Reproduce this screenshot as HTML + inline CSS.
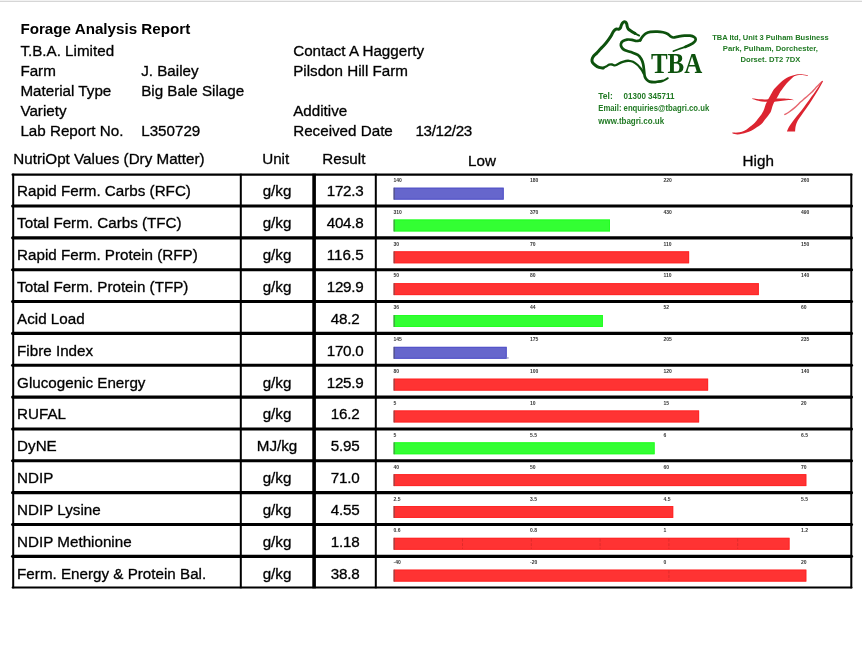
<!DOCTYPE html>
<html><head><meta charset="utf-8"><title>Forage Analysis Report</title>
<style>
html,body{margin:0;padding:0;background:#fff;}
body{width:862px;height:658px;overflow:hidden;}
svg{display:block;}

</style></head><body>
<svg width="862" height="658" viewBox="0 0 862 658">
<g font-family="Liberation Sans, Arial, Helvetica, sans-serif">
<rect x="0" y="0" width="862" height="1" fill="#f2f2f2"/>
<rect x="0" y="1" width="862" height="1" fill="#d6d6d6"/>
<text x="20.4" y="34.0" font-size="15.2" font-weight="bold" fill="#000">Forage Analysis Report</text>
<text x="20.4" y="55.6" font-size="15.2" fill="#000" stroke="#000" stroke-width="0.4" stroke-opacity="0.75">T.B.A. Limited</text>
<text x="20.4" y="76" font-size="15.2" fill="#000" stroke="#000" stroke-width="0.4" stroke-opacity="0.75">Farm</text>
<text x="141.2" y="76" font-size="15.2" fill="#000" stroke="#000" stroke-width="0.4" stroke-opacity="0.75">J. Bailey</text>
<text x="20.4" y="96" font-size="15.2" fill="#000" stroke="#000" stroke-width="0.4" stroke-opacity="0.75">Material Type</text>
<text x="141.2" y="96" font-size="15.2" fill="#000" stroke="#000" stroke-width="0.4" stroke-opacity="0.75">Big Bale Silage</text>
<text x="20.4" y="116" font-size="15.2" fill="#000" stroke="#000" stroke-width="0.4" stroke-opacity="0.75">Variety</text>
<text x="20.4" y="136" font-size="15.2" fill="#000" stroke="#000" stroke-width="0.4" stroke-opacity="0.75">Lab Report No.</text>
<text x="141.2" y="136" font-size="15.2" fill="#000" stroke="#000" stroke-width="0.4" stroke-opacity="0.75">L350729</text>
<text x="293.2" y="55.6" font-size="15.2" fill="#000" stroke="#000" stroke-width="0.4" stroke-opacity="0.75">Contact A Haggerty</text>
<text x="293.2" y="76" font-size="15.2" fill="#000" stroke="#000" stroke-width="0.4" stroke-opacity="0.75">Pilsdon Hill Farm</text>
<text x="293.2" y="116" font-size="15.2" fill="#000" stroke="#000" stroke-width="0.4" stroke-opacity="0.75">Additive</text>
<text x="293.2" y="136" font-size="15.2" fill="#000" stroke="#000" stroke-width="0.4" stroke-opacity="0.75">Received Date</text>
<text x="415.4" y="136" font-size="15.2" fill="#000" stroke="#000" stroke-width="0.4" stroke-opacity="0.75" textLength="56.9" lengthAdjust="spacing">13/12/23</text>
<text x="13.3" y="164.3" font-size="15.2" fill="#000" stroke="#000" stroke-width="0.4" stroke-opacity="0.75">NutriOpt Values (Dry Matter)</text>
<text x="275.7" y="164.1" font-size="15.2" text-anchor="middle" fill="#000" stroke="#000" stroke-width="0.4" stroke-opacity="0.75">Unit</text>
<text x="343.9" y="164.1" font-size="15.2" text-anchor="middle" fill="#000" stroke="#000" stroke-width="0.4" stroke-opacity="0.75">Result</text>
<text x="468.0" y="166.2" font-size="15.2" fill="#000" stroke="#000" stroke-width="0.4" stroke-opacity="0.75">Low</text>
<text x="742.6" y="166.2" font-size="15.2" fill="#000" stroke="#000" stroke-width="0.4" stroke-opacity="0.75">High</text>
<text x="17.1" y="196.4" font-size="15.2" fill="#000" stroke="#000" stroke-width="0.4" stroke-opacity="0.75">Rapid Ferm. Carbs (RFC)</text>
<text x="277.0" y="196.4" font-size="15.2" text-anchor="middle" fill="#000" stroke="#000" stroke-width="0.4" stroke-opacity="0.75">g/kg</text>
<text x="345.2" y="196.4" font-size="15.2" text-anchor="middle" fill="#000" stroke="#000" stroke-width="0.4" stroke-opacity="0.75" textLength="36.9" lengthAdjust="spacing">172.3</text>
<text x="393.5" y="181.8" font-size="5.0" font-weight="bold" fill="#333">140</text>
<text x="530.0" y="181.8" font-size="5.0" font-weight="bold" fill="#333">180</text>
<text x="663.5" y="181.8" font-size="5.0" font-weight="bold" fill="#333">220</text>
<text x="801.0" y="181.8" font-size="5.0" font-weight="bold" fill="#333">260</text>
<rect x="393.7" y="187.70" width="110.00" height="11.9" fill="#6666cc"/>
<rect x="394.2" y="188.20" width="109.00" height="10.9" fill="none" stroke="#5252c8" stroke-width="1"/>
<rect x="393.59999999999997" y="187.70" width="1" height="11.9" fill="#555" opacity="0.75"/>
<text x="17.1" y="228.27" font-size="15.2" fill="#000" stroke="#000" stroke-width="0.4" stroke-opacity="0.75">Total Ferm. Carbs (TFC)</text>
<text x="277.0" y="228.27" font-size="15.2" text-anchor="middle" fill="#000" stroke="#000" stroke-width="0.4" stroke-opacity="0.75">g/kg</text>
<text x="345.2" y="228.27" font-size="15.2" text-anchor="middle" fill="#000" stroke="#000" stroke-width="0.4" stroke-opacity="0.75" textLength="36.9" lengthAdjust="spacing">404.8</text>
<text x="393.5" y="213.67" font-size="5.0" font-weight="bold" fill="#333">310</text>
<text x="530.0" y="213.67" font-size="5.0" font-weight="bold" fill="#333">370</text>
<text x="663.5" y="213.67" font-size="5.0" font-weight="bold" fill="#333">430</text>
<text x="801.0" y="213.67" font-size="5.0" font-weight="bold" fill="#333">490</text>
<rect x="393.7" y="219.53" width="216.30" height="11.9" fill="#33ff33"/>
<rect x="394.2" y="220.03" width="215.30" height="10.9" fill="none" stroke="#22ff22" stroke-width="1"/>
<rect x="393.59999999999997" y="219.53" width="1" height="11.9" fill="#555" opacity="0.75"/>
<text x="17.1" y="260.14" font-size="15.2" fill="#000" stroke="#000" stroke-width="0.4" stroke-opacity="0.75">Rapid Ferm. Protein (RFP)</text>
<text x="277.0" y="260.14" font-size="15.2" text-anchor="middle" fill="#000" stroke="#000" stroke-width="0.4" stroke-opacity="0.75">g/kg</text>
<text x="345.2" y="260.14" font-size="15.2" text-anchor="middle" fill="#000" stroke="#000" stroke-width="0.4" stroke-opacity="0.75" textLength="36.9" lengthAdjust="spacing">116.5</text>
<text x="393.5" y="245.54" font-size="5.0" font-weight="bold" fill="#333">30</text>
<text x="530.0" y="245.54" font-size="5.0" font-weight="bold" fill="#333">70</text>
<text x="663.5" y="245.54" font-size="5.0" font-weight="bold" fill="#333">110</text>
<text x="801.0" y="245.54" font-size="5.0" font-weight="bold" fill="#333">150</text>
<rect x="393.7" y="251.36" width="295.40" height="11.9" fill="#ff3333"/>
<rect x="394.2" y="251.86" width="294.40" height="10.9" fill="none" stroke="#ff2626" stroke-width="1"/>
<rect x="393.59999999999997" y="251.36" width="1" height="11.9" fill="#555" opacity="0.75"/>
<text x="17.1" y="292.01" font-size="15.2" fill="#000" stroke="#000" stroke-width="0.4" stroke-opacity="0.75">Total Ferm. Protein (TFP)</text>
<text x="277.0" y="292.01" font-size="15.2" text-anchor="middle" fill="#000" stroke="#000" stroke-width="0.4" stroke-opacity="0.75">g/kg</text>
<text x="345.2" y="292.01" font-size="15.2" text-anchor="middle" fill="#000" stroke="#000" stroke-width="0.4" stroke-opacity="0.75" textLength="36.9" lengthAdjust="spacing">129.9</text>
<text x="393.5" y="277.41" font-size="5.0" font-weight="bold" fill="#333">50</text>
<text x="530.0" y="277.41" font-size="5.0" font-weight="bold" fill="#333">80</text>
<text x="663.5" y="277.41" font-size="5.0" font-weight="bold" fill="#333">110</text>
<text x="801.0" y="277.41" font-size="5.0" font-weight="bold" fill="#333">140</text>
<rect x="393.7" y="283.19" width="365.10" height="11.9" fill="#ff3333"/>
<rect x="394.2" y="283.69" width="364.10" height="10.9" fill="none" stroke="#ff2626" stroke-width="1"/>
<rect x="393.59999999999997" y="283.19" width="1" height="11.9" fill="#555" opacity="0.75"/>
<text x="17.1" y="323.88" font-size="15.2" fill="#000" stroke="#000" stroke-width="0.4" stroke-opacity="0.75">Acid Load</text>
<text x="345.2" y="323.88" font-size="15.2" text-anchor="middle" fill="#000" stroke="#000" stroke-width="0.4" stroke-opacity="0.75" textLength="28.9" lengthAdjust="spacing">48.2</text>
<text x="393.5" y="309.28" font-size="5.0" font-weight="bold" fill="#333">36</text>
<text x="530.0" y="309.28" font-size="5.0" font-weight="bold" fill="#333">44</text>
<text x="663.5" y="309.28" font-size="5.0" font-weight="bold" fill="#333">52</text>
<text x="801.0" y="309.28" font-size="5.0" font-weight="bold" fill="#333">60</text>
<rect x="393.7" y="315.02" width="209.20" height="11.9" fill="#33ff33"/>
<rect x="394.2" y="315.52" width="208.20" height="10.9" fill="none" stroke="#22ff22" stroke-width="1"/>
<rect x="393.59999999999997" y="315.02" width="1" height="11.9" fill="#555" opacity="0.75"/>
<text x="17.1" y="355.75" font-size="15.2" fill="#000" stroke="#000" stroke-width="0.4" stroke-opacity="0.75">Fibre Index</text>
<text x="345.2" y="355.75" font-size="15.2" text-anchor="middle" fill="#000" stroke="#000" stroke-width="0.4" stroke-opacity="0.75" textLength="36.9" lengthAdjust="spacing">170.0</text>
<text x="393.5" y="341.15" font-size="5.0" font-weight="bold" fill="#333">145</text>
<text x="530.0" y="341.15" font-size="5.0" font-weight="bold" fill="#333">175</text>
<text x="663.5" y="341.15" font-size="5.0" font-weight="bold" fill="#333">205</text>
<text x="801.0" y="341.15" font-size="5.0" font-weight="bold" fill="#333">235</text>
<rect x="393.7" y="346.85" width="113.00" height="11.9" fill="#6666cc"/>
<rect x="394.2" y="347.35" width="112.00" height="10.9" fill="none" stroke="#5252c8" stroke-width="1"/>
<rect x="393.59999999999997" y="346.85" width="1" height="11.9" fill="#555" opacity="0.75"/>
<rect x="506.40" y="357.25" width="2.3" height="1.4" fill="#8a8ab0" opacity="0.8"/>
<text x="17.1" y="387.62" font-size="15.2" fill="#000" stroke="#000" stroke-width="0.4" stroke-opacity="0.75">Glucogenic Energy</text>
<text x="277.0" y="387.62" font-size="15.2" text-anchor="middle" fill="#000" stroke="#000" stroke-width="0.4" stroke-opacity="0.75">g/kg</text>
<text x="345.2" y="387.62" font-size="15.2" text-anchor="middle" fill="#000" stroke="#000" stroke-width="0.4" stroke-opacity="0.75" textLength="36.9" lengthAdjust="spacing">125.9</text>
<text x="393.5" y="373.02" font-size="5.0" font-weight="bold" fill="#333">80</text>
<text x="530.0" y="373.02" font-size="5.0" font-weight="bold" fill="#333">100</text>
<text x="663.5" y="373.02" font-size="5.0" font-weight="bold" fill="#333">120</text>
<text x="801.0" y="373.02" font-size="5.0" font-weight="bold" fill="#333">140</text>
<rect x="393.7" y="378.68" width="314.40" height="11.9" fill="#ff3333"/>
<rect x="394.2" y="379.18" width="313.40" height="10.9" fill="none" stroke="#ff2626" stroke-width="1"/>
<rect x="393.59999999999997" y="378.68" width="1" height="11.9" fill="#555" opacity="0.75"/>
<text x="17.1" y="419.49" font-size="15.2" fill="#000" stroke="#000" stroke-width="0.4" stroke-opacity="0.75">RUFAL</text>
<text x="277.0" y="419.49" font-size="15.2" text-anchor="middle" fill="#000" stroke="#000" stroke-width="0.4" stroke-opacity="0.75">g/kg</text>
<text x="345.2" y="419.49" font-size="15.2" text-anchor="middle" fill="#000" stroke="#000" stroke-width="0.4" stroke-opacity="0.75" textLength="28.9" lengthAdjust="spacing">16.2</text>
<text x="393.5" y="404.89" font-size="5.0" font-weight="bold" fill="#333">5</text>
<text x="530.0" y="404.89" font-size="5.0" font-weight="bold" fill="#333">10</text>
<text x="663.5" y="404.89" font-size="5.0" font-weight="bold" fill="#333">15</text>
<text x="801.0" y="404.89" font-size="5.0" font-weight="bold" fill="#333">20</text>
<rect x="393.7" y="410.51" width="305.40" height="11.9" fill="#ff3333"/>
<rect x="394.2" y="411.01" width="304.40" height="10.9" fill="none" stroke="#ff2626" stroke-width="1"/>
<rect x="393.59999999999997" y="410.51" width="1" height="11.9" fill="#555" opacity="0.75"/>
<text x="17.1" y="451.36" font-size="15.2" fill="#000" stroke="#000" stroke-width="0.4" stroke-opacity="0.75">DyNE</text>
<text x="277.0" y="451.36" font-size="15.2" text-anchor="middle" fill="#000" stroke="#000" stroke-width="0.4" stroke-opacity="0.75">MJ/kg</text>
<text x="345.2" y="451.36" font-size="15.2" text-anchor="middle" fill="#000" stroke="#000" stroke-width="0.4" stroke-opacity="0.75" textLength="28.9" lengthAdjust="spacing">5.95</text>
<text x="393.5" y="436.76" font-size="5.0" font-weight="bold" fill="#333">5</text>
<text x="530.0" y="436.76" font-size="5.0" font-weight="bold" fill="#333">5.5</text>
<text x="663.5" y="436.76" font-size="5.0" font-weight="bold" fill="#333">6</text>
<text x="801.0" y="436.76" font-size="5.0" font-weight="bold" fill="#333">6.5</text>
<rect x="393.7" y="442.34" width="260.90" height="11.9" fill="#33ff33"/>
<rect x="394.2" y="442.84" width="259.90" height="10.9" fill="none" stroke="#22ff22" stroke-width="1"/>
<rect x="393.59999999999997" y="442.34" width="1" height="11.9" fill="#555" opacity="0.75"/>
<text x="17.1" y="483.23" font-size="15.2" fill="#000" stroke="#000" stroke-width="0.4" stroke-opacity="0.75">NDIP</text>
<text x="277.0" y="483.23" font-size="15.2" text-anchor="middle" fill="#000" stroke="#000" stroke-width="0.4" stroke-opacity="0.75">g/kg</text>
<text x="345.2" y="483.23" font-size="15.2" text-anchor="middle" fill="#000" stroke="#000" stroke-width="0.4" stroke-opacity="0.75" textLength="28.9" lengthAdjust="spacing">71.0</text>
<text x="393.5" y="468.63" font-size="5.0" font-weight="bold" fill="#333">40</text>
<text x="530.0" y="468.63" font-size="5.0" font-weight="bold" fill="#333">50</text>
<text x="663.5" y="468.63" font-size="5.0" font-weight="bold" fill="#333">60</text>
<text x="801.0" y="468.63" font-size="5.0" font-weight="bold" fill="#333">70</text>
<rect x="393.7" y="474.17" width="412.60" height="11.9" fill="#ff3333"/>
<rect x="394.2" y="474.67" width="411.60" height="10.9" fill="none" stroke="#ff2626" stroke-width="1"/>
<rect x="393.59999999999997" y="474.17" width="1" height="11.9" fill="#555" opacity="0.75"/>
<text x="17.1" y="515.1" font-size="15.2" fill="#000" stroke="#000" stroke-width="0.4" stroke-opacity="0.75">NDIP Lysine</text>
<text x="277.0" y="515.1" font-size="15.2" text-anchor="middle" fill="#000" stroke="#000" stroke-width="0.4" stroke-opacity="0.75">g/kg</text>
<text x="345.2" y="515.1" font-size="15.2" text-anchor="middle" fill="#000" stroke="#000" stroke-width="0.4" stroke-opacity="0.75" textLength="28.9" lengthAdjust="spacing">4.55</text>
<text x="393.5" y="500.5" font-size="5.0" font-weight="bold" fill="#333">2.5</text>
<text x="530.0" y="500.5" font-size="5.0" font-weight="bold" fill="#333">3.5</text>
<text x="663.5" y="500.5" font-size="5.0" font-weight="bold" fill="#333">4.5</text>
<text x="801.0" y="500.5" font-size="5.0" font-weight="bold" fill="#333">5.5</text>
<rect x="393.7" y="506.00" width="279.50" height="11.9" fill="#ff3333"/>
<rect x="394.2" y="506.50" width="278.50" height="10.9" fill="none" stroke="#ff2626" stroke-width="1"/>
<rect x="393.59999999999997" y="506.00" width="1" height="11.9" fill="#555" opacity="0.75"/>
<text x="17.1" y="546.97" font-size="15.2" fill="#000" stroke="#000" stroke-width="0.4" stroke-opacity="0.75">NDIP Methionine</text>
<text x="277.0" y="546.97" font-size="15.2" text-anchor="middle" fill="#000" stroke="#000" stroke-width="0.4" stroke-opacity="0.75">g/kg</text>
<text x="345.2" y="546.97" font-size="15.2" text-anchor="middle" fill="#000" stroke="#000" stroke-width="0.4" stroke-opacity="0.75" textLength="28.9" lengthAdjust="spacing">1.18</text>
<text x="393.5" y="532.37" font-size="5.0" font-weight="bold" fill="#333">0.6</text>
<text x="530.0" y="532.37" font-size="5.0" font-weight="bold" fill="#333">0.8</text>
<text x="663.5" y="532.37" font-size="5.0" font-weight="bold" fill="#333">1</text>
<text x="801.0" y="532.37" font-size="5.0" font-weight="bold" fill="#333">1.2</text>
<rect x="393.7" y="537.83" width="395.80" height="11.9" fill="#ff3333"/>
<rect x="394.2" y="538.33" width="394.80" height="10.9" fill="none" stroke="#ff2626" stroke-width="1"/>
<rect x="393.59999999999997" y="537.83" width="1" height="11.9" fill="#555" opacity="0.75"/>
<line x1="462.50" y1="538.63" x2="462.50" y2="548.93" stroke="#d82a2a" stroke-width="1" stroke-dasharray="3,1.5" opacity="0.8"/>
<line x1="531.30" y1="538.63" x2="531.30" y2="548.93" stroke="#d82a2a" stroke-width="1" stroke-dasharray="3,1.5" opacity="0.8"/>
<line x1="600.10" y1="538.63" x2="600.10" y2="548.93" stroke="#d82a2a" stroke-width="1" stroke-dasharray="3,1.5" opacity="0.8"/>
<line x1="668.90" y1="538.63" x2="668.90" y2="548.93" stroke="#d82a2a" stroke-width="1" stroke-dasharray="3,1.5" opacity="0.8"/>
<line x1="737.70" y1="538.63" x2="737.70" y2="548.93" stroke="#d82a2a" stroke-width="1" stroke-dasharray="3,1.5" opacity="0.8"/>
<text x="17.1" y="578.84" font-size="15.2" fill="#000" stroke="#000" stroke-width="0.4" stroke-opacity="0.75">Ferm. Energy &amp; Protein Bal.</text>
<text x="277.0" y="578.84" font-size="15.2" text-anchor="middle" fill="#000" stroke="#000" stroke-width="0.4" stroke-opacity="0.75">g/kg</text>
<text x="345.2" y="578.84" font-size="15.2" text-anchor="middle" fill="#000" stroke="#000" stroke-width="0.4" stroke-opacity="0.75" textLength="28.9" lengthAdjust="spacing">38.8</text>
<text x="393.5" y="564.24" font-size="5.0" font-weight="bold" fill="#333">-40</text>
<text x="530.0" y="564.24" font-size="5.0" font-weight="bold" fill="#333">-20</text>
<text x="663.5" y="564.24" font-size="5.0" font-weight="bold" fill="#333">0</text>
<text x="801.0" y="564.24" font-size="5.0" font-weight="bold" fill="#333">20</text>
<rect x="393.7" y="569.66" width="412.60" height="11.9" fill="#ff3333"/>
<rect x="394.2" y="570.16" width="411.60" height="10.9" fill="none" stroke="#ff2626" stroke-width="1"/>
<rect x="393.59999999999997" y="569.66" width="1" height="11.9" fill="#555" opacity="0.75"/>
<line x1="668.90" y1="570.46" x2="668.90" y2="580.76" stroke="#d82a2a" stroke-width="1" stroke-dasharray="3,1.5" opacity="0.8"/>
<line x1="12.6" y1="174.70" x2="851.5" y2="174.70" stroke="#000" stroke-width="2.2" stroke-linecap="round"/>
<line x1="12.6" y1="206.00" x2="851.5" y2="206.00" stroke="#000" stroke-width="3.1" stroke-linecap="round"/>
<line x1="12.6" y1="237.85" x2="851.5" y2="237.85" stroke="#000" stroke-width="3.1" stroke-linecap="round"/>
<line x1="12.6" y1="269.70" x2="851.5" y2="269.70" stroke="#000" stroke-width="3.1" stroke-linecap="round"/>
<line x1="12.6" y1="301.55" x2="851.5" y2="301.55" stroke="#000" stroke-width="3.1" stroke-linecap="round"/>
<line x1="12.6" y1="333.40" x2="851.5" y2="333.40" stroke="#000" stroke-width="3.1" stroke-linecap="round"/>
<line x1="12.6" y1="365.25" x2="851.5" y2="365.25" stroke="#000" stroke-width="3.1" stroke-linecap="round"/>
<line x1="12.6" y1="397.10" x2="851.5" y2="397.10" stroke="#000" stroke-width="3.1" stroke-linecap="round"/>
<line x1="12.6" y1="428.95" x2="851.5" y2="428.95" stroke="#000" stroke-width="3.1" stroke-linecap="round"/>
<line x1="12.6" y1="460.80" x2="851.5" y2="460.80" stroke="#000" stroke-width="3.1" stroke-linecap="round"/>
<line x1="12.6" y1="492.65" x2="851.5" y2="492.65" stroke="#000" stroke-width="3.1" stroke-linecap="round"/>
<line x1="12.6" y1="524.50" x2="851.5" y2="524.50" stroke="#000" stroke-width="3.1" stroke-linecap="round"/>
<line x1="12.6" y1="556.35" x2="851.5" y2="556.35" stroke="#000" stroke-width="3.1" stroke-linecap="round"/>
<line x1="12.6" y1="587.40" x2="851.5" y2="587.40" stroke="#000" stroke-width="2.0" stroke-linecap="round"/>
<rect x="12.20" y="173.7" width="2.0" height="414.60" fill="#000"/>
<rect x="239.80" y="173.7" width="2.0" height="414.60" fill="#000"/>
<rect x="312.30" y="173.7" width="3.6" height="414.60" fill="#000"/>
<rect x="374.80" y="173.7" width="2.0" height="414.60" fill="#000"/>
<rect x="850.30" y="173.7" width="2.0" height="414.60" fill="#000"/>
</g>
<g fill="none" stroke="#0d520d" stroke-linecap="round" stroke-linejoin="round">
<path stroke-width="1.8" d="M639.20,35.60 C638.50,35.23 636.32,34.13 635.00,33.40 C633.68,32.67 631.92,31.57 631.30,31.20"/>
<path stroke-width="3.0" d="M635.00,33.40 C634.38,33.03 632.42,31.93 631.30,31.20 C630.18,30.47 628.98,29.80 628.30,29.00 C627.62,28.20 627.47,27.27 627.20,26.40 C626.93,25.53 627.00,24.52 626.70,23.80 C626.40,23.08 625.87,22.42 625.40,22.10 C624.93,21.78 624.40,21.73 623.90,21.90 C623.40,22.07 622.83,22.53 622.40,23.10 C621.97,23.67 621.63,24.50 621.30,25.30 C620.97,26.10 620.83,27.25 620.40,27.90 C619.97,28.55 619.35,29.02 618.70,29.20 C618.05,29.38 617.18,28.85 616.50,29.00 C615.82,29.15 615.17,29.60 614.60,30.10 C614.03,30.60 613.60,31.18 613.10,32.00 C612.60,32.82 612.18,33.97 611.60,35.00 C611.02,36.03 610.43,37.00 609.60,38.20 C608.77,39.40 607.60,40.95 606.60,42.20 C605.60,43.45 604.63,44.57 603.60,45.70 C602.57,46.83 601.55,47.77 600.40,49.00 C599.25,50.23 597.87,51.87 596.70,53.10 C595.53,54.33 594.18,55.32 593.40,56.40 C592.62,57.48 592.15,58.60 592.00,59.60 C591.85,60.60 591.95,61.47 592.50,62.40 C593.05,63.33 594.22,64.38 595.30,65.20 C596.38,66.02 597.68,66.83 599.00,67.30 C600.32,67.77 602.50,67.88 603.20,68.00"/>
<path stroke-width="2.3" d="M603.20,68.00 C603.67,67.77 605.00,67.15 606.00,66.60 C607.00,66.05 608.20,65.05 609.20,64.70 C610.20,64.35 611.07,64.38 612.00,64.50 C612.93,64.62 613.87,65.43 614.80,65.40 C615.73,65.37 616.52,64.80 617.60,64.30 C618.68,63.80 619.90,62.95 621.30,62.40 C622.70,61.85 624.72,61.27 626.00,61.00 C627.28,60.73 627.83,60.67 629.00,60.80 C630.17,60.93 631.57,61.10 633.00,61.80 C634.43,62.50 636.35,63.92 637.60,65.00 C638.85,66.08 639.68,67.27 640.50,68.30 C641.32,69.33 641.98,70.33 642.50,71.20 C643.02,72.07 643.42,73.12 643.60,73.50"/>
<path stroke-width="1.7" d="M673.40,51.10 C674.33,50.75 677.03,49.70 679.00,49.00 C680.97,48.30 683.35,47.60 685.20,46.90 C687.05,46.20 689.28,45.15 690.10,44.80"/>
<path stroke-width="2.7" d="M685.20,46.90 C686.02,46.55 688.58,45.62 690.10,44.80 C691.62,43.98 693.37,42.93 694.30,42.00 C695.23,41.07 695.70,40.02 695.70,39.20 C695.70,38.38 695.23,37.68 694.30,37.10 C693.37,36.52 691.73,35.93 690.10,35.70 C688.47,35.47 686.35,35.58 684.50,35.70 C682.65,35.82 680.85,36.10 679.00,36.40 C677.15,36.70 674.80,37.50 673.40,37.50 C672.00,37.50 671.53,36.98 670.60,36.40 C669.67,35.82 669.07,34.68 667.80,34.00 C666.53,33.32 664.73,32.70 663.00,32.30 C661.27,31.90 659.50,31.67 657.40,31.60 C655.30,31.53 652.37,31.55 650.40,31.90 C648.43,32.25 646.98,32.83 645.60,33.70 C644.22,34.57 643.00,36.00 642.10,37.10 C641.20,38.20 640.52,39.77 640.20,40.30"/>
<path stroke-width="2.7" d="M640.20,40.30 C639.58,40.42 637.87,41.08 636.50,41.00 C635.13,40.92 633.58,40.03 632.00,39.80 C630.42,39.57 628.53,39.37 627.00,39.60 C625.47,39.83 623.82,40.47 622.80,41.20 C621.78,41.93 621.10,43.00 620.90,44.00 C620.70,45.00 621.00,46.20 621.60,47.20 C622.20,48.20 622.95,49.18 624.50,50.00 C626.05,50.82 628.68,51.28 630.90,52.10 C633.12,52.92 636.07,53.75 637.80,54.90 C639.53,56.05 640.42,57.50 641.30,59.00 C642.18,60.50 642.63,61.92 643.10,63.90 C643.57,65.88 643.82,68.80 644.10,70.90 C644.38,73.00 644.33,75.00 644.80,76.50 C645.27,78.00 646.12,79.05 646.90,79.90 C647.68,80.75 648.12,81.23 649.50,81.60 C650.88,81.97 653.08,82.20 655.20,82.10 C657.32,82.00 661.03,81.18 662.20,81.00"/>
<path stroke-width="2.0" d="M655.20,82.10 C656.37,81.92 660.10,81.65 662.20,81.00 C664.30,80.35 666.87,78.67 667.80,78.20"/>
</g>
<text x="0" y="0" font-family="Liberation Serif, serif" font-weight="bold" font-size="28.5" fill="#0d520d" transform="translate(650.9,73.3) scale(0.878,1)">TBA</text>
<g font-family="Liberation Sans, Arial, sans-serif" font-weight="bold" fill="#217a24" font-size="7.6">
<text x="770.4" y="39.6" text-anchor="middle" textLength="116.5" lengthAdjust="spacingAndGlyphs">TBA ltd, Unit 3 Pulham Business</text>
<text x="770.4" y="51" text-anchor="middle" textLength="95.2" lengthAdjust="spacingAndGlyphs">Park, Pulham, Dorchester,</text>
<text x="770.4" y="62.4" text-anchor="middle" textLength="59.9" lengthAdjust="spacingAndGlyphs">Dorset. DT2 7DX</text>
</g>
<g font-family="Liberation Sans, Arial, sans-serif" font-weight="bold" fill="#217a24" font-size="8.5">
<text x="598.3" y="98.6">Tel:</text>
<text x="623.5" y="98.6" textLength="51" lengthAdjust="spacingAndGlyphs">01300 345711</text>
<text x="598.3" y="110.6" textLength="110.9" lengthAdjust="spacingAndGlyphs">Email: enquiries@tbagri.co.uk</text>
<text x="598.3" y="123.5" textLength="65.9" lengthAdjust="spacingAndGlyphs">www.tbagri.co.uk</text>
</g>
<g fill="#dc2430" stroke="none">
<path d="M807.80,75.20 C806.75,75.03 803.42,74.33 801.50,74.20 C799.58,74.07 798.03,74.10 796.30,74.40 C794.57,74.70 792.67,75.43 791.10,76.00 C789.53,76.57 788.38,76.97 786.90,77.80 C785.42,78.63 783.68,79.78 782.20,81.00 C780.72,82.22 779.30,83.80 778.00,85.10 C776.70,86.40 775.35,87.65 774.40,88.80 C773.45,89.95 773.12,90.62 772.30,92.00 C771.48,93.38 770.23,95.78 769.50,97.10 C768.77,98.42 768.52,98.73 767.90,99.90 C767.28,101.07 766.43,102.55 765.80,104.10 C765.17,105.65 764.83,107.47 764.10,109.20 C763.37,110.93 762.45,112.88 761.40,114.50 C760.35,116.12 758.90,117.53 757.80,118.90 C756.70,120.27 756.05,121.42 754.80,122.70 C753.55,123.98 751.67,125.48 750.30,126.60 C748.93,127.72 748.00,128.55 746.60,129.40 C745.20,130.25 743.45,131.17 741.90,131.70 C740.35,132.23 738.92,132.47 737.30,132.60 C735.68,132.73 733.05,132.52 732.20,132.50 L732.60,133.60 C733.38,133.75 735.75,134.47 737.30,134.50 C738.85,134.53 740.35,134.12 741.90,133.80 C743.45,133.48 745.05,133.10 746.60,132.60 C748.15,132.10 749.67,131.57 751.20,130.80 C752.73,130.03 754.13,129.08 755.80,128.00 C757.47,126.92 759.67,125.70 761.20,124.30 C762.73,122.90 763.88,120.98 765.00,119.60 C766.12,118.22 766.92,117.35 767.90,116.00 C768.88,114.65 770.17,113.03 770.90,111.50 C771.63,109.97 771.77,108.35 772.30,106.80 C772.83,105.25 773.33,103.67 774.10,102.20 C774.87,100.73 775.88,99.70 776.90,98.00 C777.92,96.30 779.32,93.45 780.20,92.00 C781.08,90.55 781.43,90.35 782.20,89.30 C782.97,88.25 783.83,86.92 784.80,85.70 C785.77,84.48 786.95,83.13 788.00,82.00 C789.05,80.87 790.07,79.85 791.10,78.90 C792.13,77.95 793.15,76.92 794.20,76.30 C795.25,75.68 796.00,75.42 797.40,75.20 C798.80,74.98 800.87,74.88 802.60,75.00 C804.33,75.12 806.93,75.75 807.80,75.90 Z"/>
<path d="M751.90,98.30 C752.75,98.42 755.00,98.82 757.00,99.00 C759.00,99.18 761.73,99.35 763.90,99.40 C766.07,99.45 767.83,99.45 770.00,99.30 C772.17,99.15 774.82,98.63 776.90,98.50 C778.98,98.37 780.32,98.42 782.50,98.50 C784.68,98.58 788.17,98.77 790.00,99.00 C791.83,99.23 792.92,99.75 793.50,99.90 L793.50,100.30 C792.92,100.27 791.83,100.02 790.00,100.10 C788.17,100.18 785.15,100.53 782.50,100.80 C779.85,101.07 777.20,101.55 774.10,101.70 C771.00,101.85 766.75,101.92 763.90,101.70 C761.05,101.48 758.92,100.83 757.00,100.40 C755.08,99.97 753.17,99.32 752.40,99.10 Z"/>
<path d="M822.30,80.70 C821.43,82.03 819.20,85.62 817.10,88.70 C815.00,91.78 812.12,95.82 809.70,99.20 C807.28,102.58 804.73,106.20 802.60,109.00 C800.47,111.80 798.58,113.88 796.90,116.00 C795.22,118.12 793.78,119.93 792.50,121.70 C791.22,123.47 790.13,124.98 789.20,126.60 C788.27,128.22 787.28,130.60 786.90,131.40 L795.10,131.40 C795.20,130.50 795.25,127.82 795.70,126.00 C796.15,124.18 796.78,122.37 797.80,120.50 C798.82,118.63 800.40,116.78 801.80,114.80 C803.20,112.82 804.43,111.20 806.20,108.60 C807.97,106.00 810.35,102.37 812.40,99.20 C814.45,96.03 816.77,92.55 818.50,89.60 C820.23,86.65 822.08,82.85 822.80,81.50 Z"/>
</g>
<path fill="none" stroke="#dc2430" stroke-width="1.4" stroke-opacity="0.7" stroke-linecap="round" d="M784.80,114.40 C785.52,114.00 787.40,113.17 789.10,112.00 C790.80,110.83 793.05,109.10 795.00,107.40 C796.95,105.70 799.18,103.30 800.80,101.80 C802.42,100.30 803.48,99.45 804.70,98.40 C805.92,97.35 806.88,96.55 808.10,95.50 C809.32,94.45 810.78,93.32 812.00,92.10 C813.22,90.88 814.35,89.33 815.40,88.20 C816.45,87.07 817.17,86.43 818.30,85.30 C819.43,84.17 821.55,82.05 822.20,81.40"/>
</svg>
</body></html>
